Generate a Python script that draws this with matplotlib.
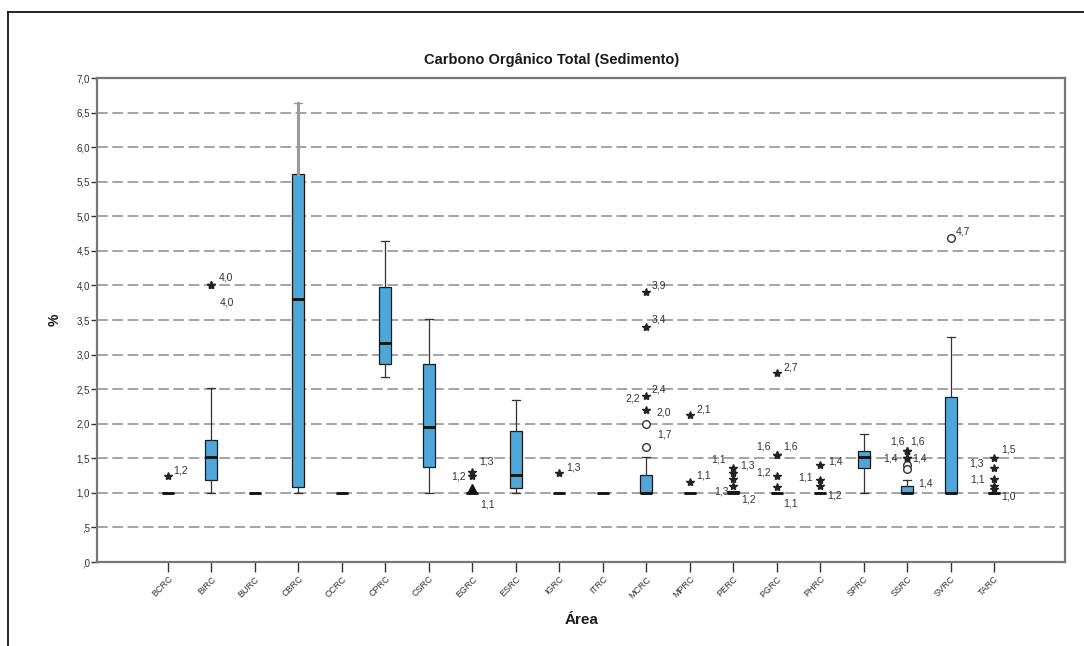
import matplotlib
matplotlib.use("Agg")
import matplotlib.pyplot as plt
from matplotlib.lines import Line2D

plt.rcParams['font.family'] = ['Liberation Sans', 'DejaVu Sans']

# Sampling areas
areas = ['BCRC', 'BIRC', 'BURC', 'CBRC', 'CCRC', 'CPRC', 'CSRC', 'EGRC', 'ESRC', 'IGRC',
         'ITRC', 'MCRC', 'MPRC', 'PERC', 'PGRC', 'PHRC', 'SPRC', 'SSRC', 'SVRC', 'TARC']

# Box statistics (% total organic carbon)
q1 = [1.00, 1.18, 1.00, 1.08, 1.00, 2.86, 1.37, 1.00, 1.07, 1.00,
      1.00, 1.00, 1.00, 1.00, 1.00, 1.00, 1.36, 1.00, 1.00, 1.00]
median = [1.00, 1.52, 1.00, 3.80, 1.00, 3.17, 1.95, 1.00, 1.26, 1.00,
          1.00, 1.00, 1.00, 1.00, 1.00, 1.00, 1.52, 1.00, 1.00, 1.00]
q3 = [1.00, 1.77, 1.00, 5.61, 1.00, 3.98, 2.87, 1.00, 1.89, 1.00,
      1.00, 1.26, 1.00, 1.03, 1.00, 1.00, 1.60, 1.10, 2.38, 1.00]
whisker_low = [1.00, 1.00, 1.00, 1.00, 1.00, 2.68, 1.00, 1.00, 1.00, 1.00,
               1.00, 1.00, 1.00, 1.00, 1.00, 1.00, 1.00, 1.00, 1.00, 1.00]
whisker_high = [1.00, 2.51, 1.00, 6.64, 1.00, 4.64, 3.52, 1.00, 2.35, 1.00,
                1.00, 1.52, 1.00, 1.00, 1.00, 1.00, 1.85, 1.18, 3.25, 1.00]

# Outliers: area index, value, kind ('*' extreme, 'o' outlier, '^' stacked), case label
outlier_area = [0, 1, 1, 7, 7, 7, 9, 11, 11, 11, 11, 11, 11, 12, 12,
                13, 13, 13, 13, 14, 14, 14, 14, 14, 15, 15, 15,
                17, 17, 17, 17, 17, 17, 18, 19, 19, 19, 19, 19]
outlier_value = [1.25, 4.0, 4.0, 1.3, 1.24, 1.07, 1.28, 1.66, 2.0, 2.2, 2.4, 3.4, 3.9, 2.13, 1.15,
                 1.36, 1.28, 1.2, 1.1, 2.73, 1.55, 1.55, 1.25, 1.08, 1.4, 1.18, 1.1,
                 1.6, 1.6, 1.5, 1.5, 1.4, 1.35, 4.68, 1.5, 1.36, 1.2, 1.1, 1.05]
outlier_kind = ['*', '*', '*', '*', '*', '^', '*', 'o', 'o', '*', '*', '*', '*', '*', '*',
                '*', '*', '*', '*', '*', '*', '*', '*', '*', '*', '*', '*',
                '*', '*', '*', '*', 'o', 'o', 'o', '*', '*', '*', '*', '*']
outlier_label = ['1,2', '4,0', '4,0', '1,3', '1,2', '1,1', '1,3', '1,7', '2,0', '2,2', '2,4', '3,4', '3,9', '2,1', '1,1',
                 '1,1', '1,3', '1,3', '1,2', '2,7', '1,6', '1,6', '1,2', '1,1', '1,4', '1,2', '1,1',
                 '1,6', '1,6', '1,4', '1,4', '', '1,4', '4,7', '1,5', '1,3', '1,1', '', '1,0']

# Label placement relative to each marker (points)
label_offset = [(4, 4), (5, 6), (6, -12), (5, 8), (-15, 0), (6, -12), (5, 4), (8, 9), (7, 8), (-15, 8), (4, 5), (4, 5), (4, 5), (5, 4), (5, 5),
                (-16, 6), (5, 6), (-14, -9), (6, -10), (5, 4), (-15, 6), (5, 6), (-15, 2), (5, -12), (6, 3), (5, -11), (-16, 6),
                (-12, 7), (2, 7), (-17, 0), (4, 0), (0, 0), (8, -11), (4, 5), (5, 6), (-18, 3), (-17, 0), (0, 0), (5, -5)]

yticks = [i * 0.5 for i in range(15)]


def comma_label(v):
    s = f"{v:.1f}".replace('.', ',')
    return s[1:] if s.startswith('0') else s


fig = plt.figure(figsize=(10.84, 6.46), dpi=100)
ax = fig.add_axes([97 / 1084, 1 - 562 / 646, (1065 - 97) / 1084, (562 - 78) / 646])

# Outer frame of the chart panel
fig.add_artist(Line2D([8 / 1084, 8 / 1084], [0, 1 - 12 / 646], transform=fig.transFigure,
                      color='black', lw=1.2))
fig.add_artist(Line2D([8 / 1084, 1], [1 - 12 / 646, 1 - 12 / 646], transform=fig.transFigure,
                      color='black', lw=1.2))

# Dashed reference lines
for v in yticks[1:]:
    ax.axhline(v, color='#8c8c8c', lw=1.1, ls=(0, (7, 3)), zorder=0)

stats = []
for i in range(len(areas)):
    stats.append(dict(med=median[i], q1=q1[i], q3=q3[i],
                      whislo=whisker_low[i], whishi=whisker_high[i], fliers=[]))

positions = list(range(len(areas)))
bp = ax.bxp(stats, positions=positions, widths=0.27, patch_artist=True,
            showfliers=False, capwidths=0.18,
            boxprops=dict(facecolor='#4fa6d9', edgecolor='#1a1a1a', linewidth=0.9),
            medianprops=dict(color='#111111', linewidth=2.0),
            whiskerprops=dict(color='#333333', linewidth=0.9),
            capprops=dict(color='#333333', linewidth=0.9))
# long upper whisker of CBRC
bp['whiskers'][2 * 3 + 1].set_color('#9a9a9a')
bp['whiskers'][2 * 3 + 1].set_linewidth(2.2)
bp['caps'][2 * 3 + 1].set_color('#9a9a9a')

for a, v, k, lab, off in zip(outlier_area, outlier_value, outlier_kind, outlier_label, label_offset):
    if k == '*':
        ax.plot(a, v, marker='*', ms=6, color='#222222', mec='#222222', ls='none', zorder=4)
    elif k == 'o':
        ax.plot(a, v, marker='o', ms=5.5, mfc='white', mec='#333333', mew=1.0, ls='none', zorder=4)
    else:
        ax.plot(a, v, marker='^', ms=6, color='#111111', ls='none', zorder=4)
    if lab:
        ax.annotate(lab, (a, v), xytext=off, textcoords='offset points',
                    fontsize=7.5, color='#333333', ha='left', va='center')

ax.set_xlim(-1.63, len(areas) - 1 + 1.63)
ax.set_ylim(0, 7.0)
ax.set_yticks(yticks)
ax.set_yticklabels([comma_label(v) for v in yticks], fontsize=7, color='#333333')
ax.set_xticks(positions)
ax.set_xticklabels(areas, rotation=45, ha='right', va='top', rotation_mode='anchor',
                   fontsize=6.5, color='#333333')
ax.tick_params(axis='y', length=4, width=1.0, color='#333333', pad=1)
ax.tick_params(axis='x', length=7, width=1.0, color='#333333', pad=2)

for s in ax.spines.values():
    s.set_color('#777777')
    s.set_linewidth(1.6)

fig.text(552 / 1084, 1 - 60 / 646, 'Carbono Orgânico Total (Sedimento)',
         ha='center', va='center', fontsize=10.5, fontweight='bold', color='#1a1a1a')
fig.text(55 / 1084, 1 - 320 / 646, '%', ha='center', va='center', rotation=90,
         fontsize=10, fontweight='bold', color='#1a1a1a')
fig.text(582 / 1084, 1 - 620 / 646, 'Área', ha='center', va='center',
         fontsize=11, fontweight='bold', color='#1a1a1a')

fig.savefig('out.png', dpi=100, facecolor='white')
